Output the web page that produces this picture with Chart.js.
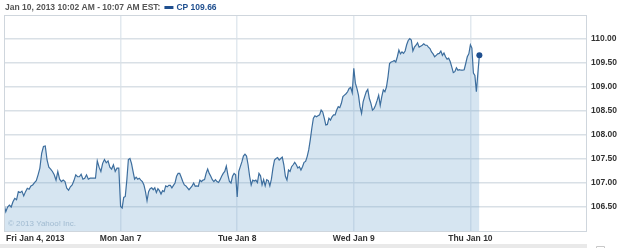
<!DOCTYPE html>
<html>
<head>
<meta charset="utf-8">
<script src="https://cdn.jsdelivr.net/npm/chart.js@4"></script>
<style>
  html, body { margin: 0; padding: 0; background: #fff; }
  #wrap { width: 625px; height: 248px; position: relative; }
</style>
</head>
<body>
<div id="wrap"><canvas id="c" width="625" height="248"></canvas></div>
<script>
// ---- data ----
const dayLabels = ["Fri Jan 4, 2013", "Mon Jan 7", "Tue Jan 8", "Wed Jan 9", "Thu Jan 10"];
const yTicks = [106.5, 107.0, 107.5, 108.0, 108.5, 109.0, 109.5, 110.0];
const headerText = "Jan 10, 2013 10:02 AM - 10:07 AM EST:";
const seriesName = "CP";
const lastValue = 109.66;

const fri = [106.56,106.40,106.50,106.54,106.50,106.61,106.68,106.65,106.82,106.80,106.83,106.73,106.82,106.89,106.87,106.94,106.96,107.01,107.05,107.17,107.31,107.62,107.76,107.77,107.48,107.33,107.29,107.24,107.17,107.06,107.24,107.08,107.03,107.06,107.03,106.89,106.85,106.92,106.96,107.05,107.17,107.13,107.13,107.18,107.08,107.10,107.17,107.08,107.10,107.10,107.10,107.10,107.46,107.33,107.24,107.41,107.49,107.42,107.46,107.33,107.29,107.38,107.24,107.31,107.31];
const mon = [106.51,106.48,106.70,106.72,107.06,107.49,107.51,107.41,107.24,107.08,107.12,107.08,107.10,107.06,107.03,106.96,106.82,106.63,106.82,106.88,106.90,106.86,106.90,106.80,106.88,106.84,106.77,106.84,106.82,106.94,106.92,106.95,106.95,106.90,106.95,107.00,107.14,107.20,107.20,107.12,107.03,106.96,106.94,106.90,106.86,106.90,106.94,107.00,106.93,106.94,106.93,107.06,107.03,107.06,107.07,107.20,107.29,107.20,107.14,107.07,107.03,107.07,107.03,107.01,107.07,107.14,107.20,107.24,107.35,107.17,107.03,107.00,107.14,107.20,107.17];
const tue = [106.71,107.24,107.34,107.44,107.56,107.60,107.56,107.38,107.14,106.96,107.06,107.04,107.06,107.01,107.20,107.15,106.96,107.07,106.94,107.07,107.05,106.94,107.08,107.31,107.48,107.51,107.53,107.48,107.51,107.54,107.38,107.14,107.06,107.27,107.24,107.34,107.38,107.43,107.38,107.31,107.34,107.27,107.34,107.43,107.45,107.55,107.69,107.90,108.14,108.35,108.40,108.38,108.40,108.42,108.52,108.48,108.35,108.21,108.22,108.35,108.31,108.38,108.42,108.42,108.52,108.59,108.57,108.66,108.80,108.83,108.86,108.90,108.97,108.99,108.88];
const wed = [109.39,109.08,108.97,108.83,108.59,108.45,108.69,108.80,108.90,108.95,108.76,108.66,108.52,108.55,108.62,108.72,108.83,108.62,108.80,108.94,108.90,109.00,109.21,109.49,109.52,109.53,109.55,109.52,109.63,109.77,109.69,109.73,109.70,109.75,109.88,109.97,110.01,109.98,109.75,109.83,109.87,109.92,109.83,109.85,109.87,109.90,109.87,109.87,109.83,109.80,109.73,109.69,109.63,109.66,109.69,109.70,109.75,109.66,109.71,109.63,109.58,109.60,109.53,109.42,109.30,109.32,109.40,109.35,109.36,109.35,109.35,109.36,109.49,109.63,109.69];
const thu = [109.88,109.81,109.29,109.24,108.90,109.29,109.66];
const intervalsPerDay = 78;

// ---- build points: full days spread across the session, last day at 5-min steps ----
const fullDays = [fri, mon, tue, wed];
const points = [];
fullDays.forEach((arr, d) => {
  arr.forEach((v, k) => points.push({ x: d + k / arr.length, y: v }));
});
thu.forEach((v, k) => points.push({ x: 4 + k / intervalsPerDay, y: v }));

const FONT = "'Liberation Sans', Arial, sans-serif";

const decor = {
  id: 'decor',
  beforeDatasetsDraw(chart) {
    const { ctx, chartArea: a } = chart;
    ctx.save();
    ctx.font = "8px " + FONT;
    ctx.fillStyle = "#b3c3d1";
    ctx.textBaseline = "middle";
    ctx.textAlign = "left";
    ctx.fillText("\u00A9 2013 Yahoo! Inc.", a.left + 4, a.bottom - 7);
    ctx.restore();
  },
  afterDraw(chart) {
    const { ctx, chartArea: a, scales } = chart;
    ctx.save();
    // frame
    ctx.strokeStyle = "#cfd6dd";
    ctx.lineWidth = 1;
    ctx.strokeRect(a.left + 0.5, a.top + 0.5, a.right - a.left - 1, a.bottom - a.top);
    // x labels
    ctx.font = "bold 8.5px " + FONT;
    ctx.fillStyle = "#333";
    ctx.textBaseline = "middle";
    dayLabels.forEach((lab, i) => {
      const px = scales.x.getPixelForValue(i);
      if (i === 0) { ctx.textAlign = "left"; ctx.fillText(lab, px + 2, a.bottom + 8); }
      else { ctx.textAlign = "center"; ctx.fillText(lab, px, a.bottom + 8); }
    });
    // header
    ctx.textAlign = "left";
    ctx.font = "bold 8.5px " + FONT;
    ctx.fillStyle = "#555";
    ctx.fillText(headerText, 5, 7.5);
    const w = ctx.measureText(headerText).width;
    ctx.fillStyle = "#1f4f8f";
    ctx.fillRect(5 + w + 4, 6, 9, 3);
    ctx.fillText(seriesName + " " + lastValue.toFixed(2), 5 + w + 16, 7.5);
    // bottom bar
    ctx.fillStyle = "#e9e9e9";
    ctx.fillRect(0, 244, a.right, 4);
    ctx.strokeStyle = "#c8c8c8";
    ctx.beginPath();
    ctx.moveTo(596.5, 248); ctx.lineTo(596.5, 246.5); ctx.lineTo(604.5, 246.5); ctx.lineTo(604.5, 248);
    ctx.stroke();
    ctx.restore();
  }
};

new Chart(document.getElementById('c'), {
  type: 'line',
  data: {
    datasets: [{
      data: points,
      borderColor: '#3d6e9e',
      borderWidth: 1.2,
      backgroundColor: 'rgba(120,168,210,0.30)',
      fill: 'start',
      tension: 0,
      pointRadius: points.map((p, i) => i === points.length - 1 ? 3 : 0),
      pointBackgroundColor: '#1f4f8f',
      pointBorderColor: '#1f4f8f',
      pointBorderWidth: 0
    }]
  },
  options: {
    responsive: false,
    animation: false,
    parsing: true,
    layout: { padding: { left: 3, top: 15, right: 0, bottom: 17 } },
    plugins: { legend: { display: false }, tooltip: { enabled: false } },
    scales: {
      x: {
        type: 'linear',
        min: 0, max: 5,
        z: 1,
        afterBuildTicks: s => { s.ticks = [1, 2, 3, 4].map(v => ({ value: v })); },
        afterFit: s => { s.height = 0; },
        ticks: { display: false },
        grid: { color: '#e2e9ef', lineWidth: 1.5, drawTicks: false },
        border: { display: false }
      },
      y: {
        position: 'right',
        min: 106, max: 110.5,
        afterBuildTicks: s => { s.ticks = yTicks.map(v => ({ value: v })); },
        afterFit: s => { s.width = 38; },
        ticks: {
          padding: 4,
          font: { family: FONT, size: 8.5, weight: 'bold' },
          color: '#333',
          callback: v => Number(v).toFixed(2)
        },
        grid: { color: '#d9e0e6', lineWidth: 1.5, drawTicks: false },
        border: { display: false }
      }
    }
  },
  plugins: [decor]
});
</script>
</body>
</html>
